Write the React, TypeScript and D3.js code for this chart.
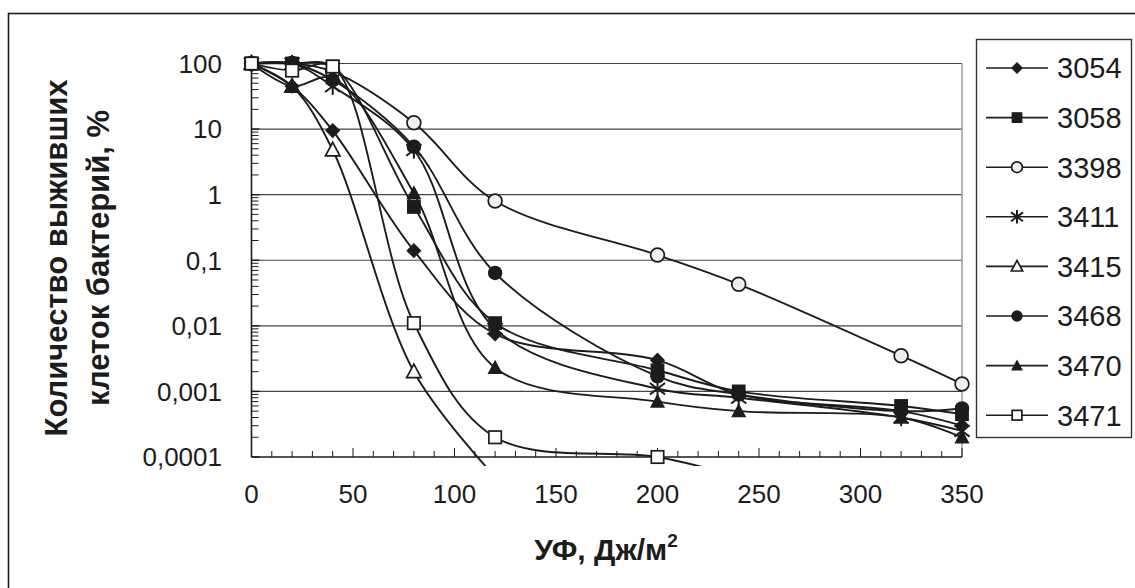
import React from 'react';
import * as d3 from 'd3';

// ---- data ----
const doses = [0, 20, 40, 80, 120, 200, 240, 320, 350];
const doses3415 = [0, 20, 40, 80, 120];
const doses3471 = [0, 20, 40, 80, 120, 200, 240];

const v3054 = [100, 45, 9.5, 0.14, 0.0075, 0.003, 0.0009, 0.0005, 0.0003];
const v3058 = [100, 100, 90, 0.65, 0.011, 0.0021, 0.001, 0.0006, 0.00045];
const v3398 = [100, 100, 75, 12.5, 0.8, 0.12, 0.043, 0.0035, 0.0013];
const v3411 = [100, 100, 45, 4.8, 0.009, 0.0011, 0.0008, 0.0004, 0.00025];
const v3415 = [100, 45, 4.8, 0.002, 0.00005];
const v3468 = [100, 100, 56, 5.4, 0.064, 0.0017, 0.0009, 0.0005, 0.00055];
const v3470 = [100, 45, 60, 1.05, 0.0023, 0.0007, 0.0005, 0.0004, 0.0002];
const v3471 = [100, 78, 90, 0.011, 0.0002, 0.0001, 0.00005];

const seriesNames = ['3054', '3058', '3398', '3411', '3415', '3468', '3470', '3471'];
const seriesX = [doses, doses, doses, doses, doses3415, doses, doses, doses3471];
const seriesY = [v3054, v3058, v3398, v3411, v3415, v3468, v3470, v3471];
const markerTypes = ['diamond', 'squareFilled', 'circleOpen', 'asterisk', 'triangleOpen', 'circleFilled', 'triangleFilled', 'squareOpen'];

const yTickValues = [100, 10, 1, 0.1, 0.01, 0.001, 0.0001];
const yTickLabels = ['100', '10', '1', '0,1', '0,01', '0,001', '0,0001'];
const xTickValues = [0, 50, 100, 150, 200, 250, 300, 350];
const yTitleLines = ['Количество выживших', 'клеток бактерий, %'];
const xTitle = 'УФ, Дж/м';

// ---- layout ----
const W = 1135, H = 588;
const L = 251.5, R = 962, T = 63.5, B = 457;
const INK = '#1c1c1c';
const FONT = '"Liberation Sans", Arial, sans-serif';

const x = d3.scaleLinear().domain([0, 350]).range([L, R]);
const y = d3.scaleLog().domain([0.0001, 100]).range([B, T]);

function Marker({ type, cx, cy, k = 1 }: { type: string; cx: number; cy: number; k?: number }) {
  const s = 6 * k;
  switch (type) {
    case 'diamond':
      return <polygon points={`${cx},${cy - s * 1.1} ${cx + s * 1.1},${cy} ${cx},${cy + s * 1.1} ${cx - s * 1.1},${cy}`} fill={INK} />;
    case 'squareFilled':
      return <rect x={cx - s} y={cy - s} width={2 * s} height={2 * s} fill={INK} />;
    case 'squareOpen':
      return <rect x={cx - s * 0.9} y={cy - s * 0.9} width={1.8 * s} height={1.8 * s} fill="#fff" stroke={INK} strokeWidth={1.7} />;
    case 'circleOpen':
      return <circle cx={cx} cy={cy} r={s} fill="#efefef" stroke={INK} strokeWidth={1.7} />;
    case 'circleFilled':
      return <circle cx={cx} cy={cy} r={s * 1.05} fill={INK} />;
    case 'triangleFilled':
      return <polygon points={`${cx},${cy - s * 1.15} ${cx + s * 1.1},${cy + s * 0.9} ${cx - s * 1.1},${cy + s * 0.9}`} fill={INK} />;
    case 'triangleOpen':
      return <polygon points={`${cx},${cy - s * 1.1} ${cx + s * 1.05},${cy + s * 0.85} ${cx - s * 1.05},${cy + s * 0.85}`} fill="#fff" stroke={INK} strokeWidth={1.7} />;
    case 'asterisk': {
      const a = s * 1.25, b = s * 1.1;
      return (
        <g stroke={INK} strokeWidth={2}>
          <line x1={cx} y1={cy - a} x2={cx} y2={cy + a} />
          <line x1={cx - b} y1={cy - b * 0.75} x2={cx + b} y2={cy + b * 0.75} />
          <line x1={cx - b} y1={cy + b * 0.75} x2={cx + b} y2={cy - b * 0.75} />
        </g>
      );
    }
    default:
      return null;
  }
}

export default function App() {
  const line = d3
    .line<[number, number]>()
    .x((d) => x(d[0]))
    .y((d) => y(d[1]))
    .curve(d3.curveCatmullRom.alpha(0.5));

  const minorY: number[] = [];
  for (let e = -4; e < 2; e++) {
    for (let m = 2; m <= 9; m++) minorY.push(m * Math.pow(10, e));
  }
  const xTicksAll = d3.range(0, 351, 10);

  const legendX = 976.5, legendY = 39.5, legendW = 155, legendH = 398;
  const itemY0 = 68, itemStep = 49.6;

  return (
    <svg width={W} height={H} style={{ position: 'absolute', left: 0, top: 0, background: '#fff' }} fontFamily={FONT}>
      <defs>
        <clipPath id="plotClip">
          <rect x={L} y={T - 12} width={R - L + 10} height={B - T + 21} />
        </clipPath>
      </defs>
      {/* outer frame */}
      <rect x={8.5} y={13.5} width={W + 20} height={H + 20} fill="none" stroke={INK} strokeWidth={1.6} />

      {/* gridlines */}
      {yTickValues.slice(0, -1).map((v) => (
        <line key={'g' + v} x1={L} x2={R} y1={y(v)} y2={y(v)} stroke="#444" strokeWidth={1.2} />
      ))}
      <line x1={R} x2={R} y1={T} y2={B} stroke="#9a9a9a" strokeWidth={1.5} />

      {/* y minor ticks */}
      {minorY.map((v, i) => (
        <line key={'my' + i} x1={L} x2={L + 7} y1={y(v)} y2={y(v)} stroke={INK} strokeWidth={1} />
      ))}
      {yTickValues.map((v) => (
        <line key={'My' + v} x1={L} x2={L + 8} y1={y(v)} y2={y(v)} stroke={INK} strokeWidth={1.4} />
      ))}
      {/* x ticks */}
      {xTicksAll.map((v) => (
        <line key={'tx' + v} x1={x(v)} x2={x(v)} y1={B} y2={B - (v % 50 === 0 ? 9 : 6)} stroke={INK} strokeWidth={1} />
      ))}
      {/* axes */}
      <line x1={L} x2={L} y1={T} y2={B} stroke={INK} strokeWidth={1.6} />
      <line x1={L} x2={R} y1={B} y2={B} stroke={INK} strokeWidth={1.6} />

      {/* y tick labels */}
      {yTickValues.map((v, i) => (
        <text key={'yl' + v} x={222} y={y(v)} dy="0.36em" textAnchor="end" fontSize={26} fill={INK}>
          {yTickLabels[i]}
        </text>
      ))}
      {/* x tick labels */}
      {xTickValues.map((v) => (
        <text key={'xl' + v} x={x(v)} y={494} dy="0.36em" textAnchor="middle" fontSize={26} fill={INK}>
          {v}
        </text>
      ))}

      {/* series */}
      <g clipPath="url(#plotClip)">
        {seriesNames.map((n, i) => {
          const pts = seriesX[i].map((d, j) => [d, seriesY[i][j]] as [number, number]);
          return <path key={'l' + n} d={line(pts) || ''} fill="none" stroke={INK} strokeWidth={1.9} />;
        })}
      </g>
      {seriesNames.map((n, i) => (
        <g key={'m' + n}>
          {seriesX[i].map((d, j) => {
            const v = seriesY[i][j];
            if (v < 0.0001) return null;
            return <Marker key={j} type={markerTypes[i]} cx={x(d)} cy={y(v)} k={1.15} />;
          })}
        </g>
      ))}

      {/* axis titles */}
      {yTitleLines.map((t, i) => (
        <text key={'yt' + i} transform={`translate(${67 + i * 42},${258}) rotate(-90)`} textAnchor="middle" fontSize={31} fontWeight="bold" fill={INK}>
          {t}
        </text>
      ))}
      <text x={606} y={560} textAnchor="middle" fontSize={30} fontWeight="bold" fill={INK}>
        {xTitle}
        <tspan fontSize={19} dy={-13}>2</tspan>
      </text>

      {/* legend */}
      <rect x={legendX} y={legendY} width={legendW} height={legendH} fill="#fff" stroke="#333" strokeWidth={1.4} />
      {seriesNames.map((n, i) => {
        const cy = itemY0 + i * itemStep;
        return (
          <g key={'lg' + n}>
            <line x1={986} x2={1048} y1={cy} y2={cy} stroke={INK} strokeWidth={1.6} />
            <Marker type={markerTypes[i]} cx={1017} cy={cy} k={0.9} />
            <text x={1057} y={cy} dy="0.36em" fontSize={29} fill={INK}>
              {n}
            </text>
          </g>
        );
      })}
    </svg>
  );
}
